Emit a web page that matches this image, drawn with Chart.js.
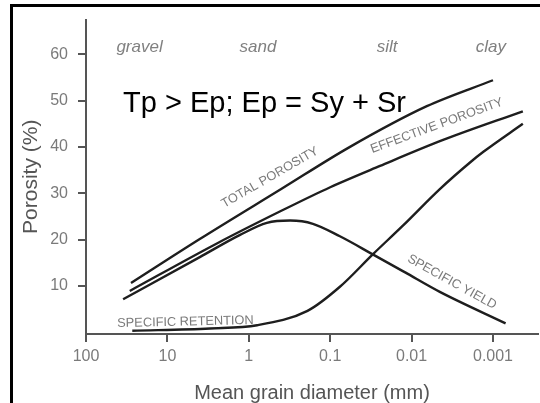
<!DOCTYPE html>
<html>
<head>
<meta charset="utf-8">
<title>Porosity vs grain size</title>
<script src="https://cdn.jsdelivr.net/npm/chart.js@4.4.1/dist/chart.umd.min.js"></script>
<style>
  html, body { margin: 0; padding: 0; background: #fff; }
  #wrap { width: 540px; height: 403px; }
</style>
</head>
<body>
<div id="wrap"><canvas id="porosityChart" width="540" height="403"></canvas></div>
<script>
// --- Data (diameter in mm, porosity in %) ---
const tpDiameter = [28, 4, 0.4, 0.06, 0.0065, 0.001];
const tpPorosity = [10.6, 20.1, 30.9, 39.8, 48.8, 54.4];

const epDiameter = [29, 2.5, 0.41, 0.1, 0.0244, 0.0041, 0.00043];
const epPorosity = [8.9, 19.1, 26.1, 31.3, 35.9, 41.5, 47.7];

const syDiameter = [35, 4, 1.28, 0.6, 0.31, 0.163, 0.076, 0.03, 0.012, 0.0045, 0.0007];
const syPorosity = [7.1, 16.2, 21.0, 23.6, 24.1, 23.4, 20.7, 16.8, 12.9, 8.7, 1.9];

const srDiameter = [27, 3, 0.79, 0.19, 0.076, 0.03, 0.0128, 0.0045, 0.0019, 0.0013, 0.00043];
const srPorosity = [0.3, 0.8, 1.5, 4.6, 9.8, 16.8, 23.0, 30.9, 36.7, 39.0, 45.0];

const xTickValues = [100, 10, 1, 0.1, 0.01, 0.001];
const xTickLabels = ['100', '10', '1', '0.1', '0.01', '0.001'];
const yTickValues = [10, 20, 30, 40, 50, 60];

const soilClasses = ['gravel', 'sand', 'silt', 'clay'];
const curveNames = ['TOTAL POROSITY', 'EFFECTIVE POROSITY', 'SPECIFIC YIELD', 'SPECIFIC RETENTION'];
const relationText = 'Tp > Ep; Ep = Sy + Sr';

// --- Helpers ---
const FONT = "'Liberation Sans', Arial, sans-serif";

function toPoints(xs, ys) {
    return xs.map((x, i) => ({ x: x, y: ys[i] }));
}

function curve(xs, ys) {
    return {
        data: toPoints(xs, ys),
        borderColor: '#1e1e1e',
        borderWidth: 2.4,
        pointRadius: 0,
        cubicInterpolationMode: 'monotone',
        fill: false
    };
}

// where the text labels sit, in data units (diameter, porosity)
const soilClassAnchors = [[22, 60.6], [0.77, 60.6], [0.02, 60.6], [0.00106, 60.6]];
const curveLabelAnchors = [
    { at: [0.55, 33.4], angle: -30 },
    { at: [0.0049, 44.6], angle: -20 },
    { at: [0.0032, 10.8], angle: 29 },
    { at: [6.0, 2.2], angle: -1.3 }
];

// --- Plugin: frame, class names, formula and curve labels ---
const annotationPlugin = {
    id: 'annotations',
    beforeDraw(chart) {
        const ctx = chart.ctx;
        ctx.save();
        ctx.fillStyle = '#fff';
        ctx.fillRect(0, 0, chart.width, chart.height);
        ctx.fillStyle = '#000';
        ctx.fillRect(10, 4, chart.width - 10, 3);
        ctx.fillRect(10, 4, 3, chart.height - 4);
        ctx.restore();
    },
    afterDatasetsDraw(chart) {
        const ctx = chart.ctx;
        const xs = chart.scales.x;
        const ys = chart.scales.y;
        ctx.save();

        // soil class names along the top
        ctx.font = 'italic 17px ' + FONT;
        ctx.fillStyle = '#808080';
        ctx.textAlign = 'center';
        ctx.textBaseline = 'alphabetic';
        soilClasses.forEach((name, i) => {
            const a = soilClassAnchors[i];
            ctx.fillText(name, xs.getPixelForValue(a[0]), ys.getPixelForValue(a[1]));
        });

        // relation text
        ctx.font = '29px ' + FONT;
        ctx.fillStyle = '#000';
        ctx.textAlign = 'left';
        ctx.fillText(relationText, xs.getPixelForValue(35), ys.getPixelForValue(47.5));

        // curve labels
        ctx.font = '12.8px ' + FONT;
        ctx.fillStyle = '#7a7a7a';
        ctx.textAlign = 'center';
        ctx.textBaseline = 'middle';
        curveNames.forEach((name, i) => {
            const a = curveLabelAnchors[i];
            ctx.save();
            ctx.translate(xs.getPixelForValue(a.at[0]), ys.getPixelForValue(a.at[1]));
            ctx.rotate(a.angle * Math.PI / 180);
            ctx.fillText(name, 0, 0);
            ctx.restore();
        });
        ctx.restore();
    }
};

// --- Chart ---
const ctx = document.getElementById('porosityChart').getContext('2d');
new Chart(ctx, {
    type: 'line',
    data: {
        datasets: [
            curve(tpDiameter, tpPorosity),
            curve(epDiameter, epPorosity),
            curve(syDiameter, syPorosity),
            curve(srDiameter, srPorosity)
        ]
    },
    options: {
        responsive: false,
        animation: false,
        layout: { padding: { left: 12, top: 7, right: 2, bottom: 0 } },
        plugins: {
            legend: { display: false },
            tooltip: { enabled: false }
        },
        scales: {
            x: {
                type: 'logarithmic',
                reverse: true,
                min: 0.00028,
                max: 100,
                afterBuildTicks: function(scale) {
                    scale.ticks = xTickValues.map(v => ({ value: v }));
                },
                afterFit: function(scale) { scale.height = 69; },
                ticks: {
                    callback: function(value, index) { return xTickLabels[index]; },
                    color: '#7a7a7a',
                    font: { family: FONT, size: 16 },
                    padding: 5,
                    maxRotation: 0,
                    autoSkip: false
                },
                grid: { drawOnChartArea: false, tickLength: 8, color: '#555', lineWidth: 2 },
                border: { color: '#555', width: 2 },
                title: {
                    display: true,
                    text: 'Mean grain diameter (mm)',
                    color: '#555',
                    font: { family: FONT, size: 20, lineHeight: 1 },
                    padding: { top: 0, bottom: 0 }
                }
            },
            y: {
                min: -0.4,
                max: 67.5,
                afterBuildTicks: function(scale) {
                    scale.ticks = yTickValues.map(v => ({ value: v }));
                },
                afterFit: function(scale) { scale.width = 74; },
                ticks: {
                    color: '#7a7a7a',
                    font: { family: FONT, size: 16 },
                    padding: 10
                },
                grid: { drawOnChartArea: false, tickLength: 8, color: '#555', lineWidth: 2 },
                border: { color: '#555', width: 2 },
                title: {
                    display: true,
                    text: 'Porosity (%)',
                    color: '#555',
                    font: { family: FONT, size: 21, lineHeight: 1 },
                    padding: { top: 9, bottom: 0 }
                }
            }
        }
    },
    plugins: [annotationPlugin]
});
</script>
</body>
</html>
